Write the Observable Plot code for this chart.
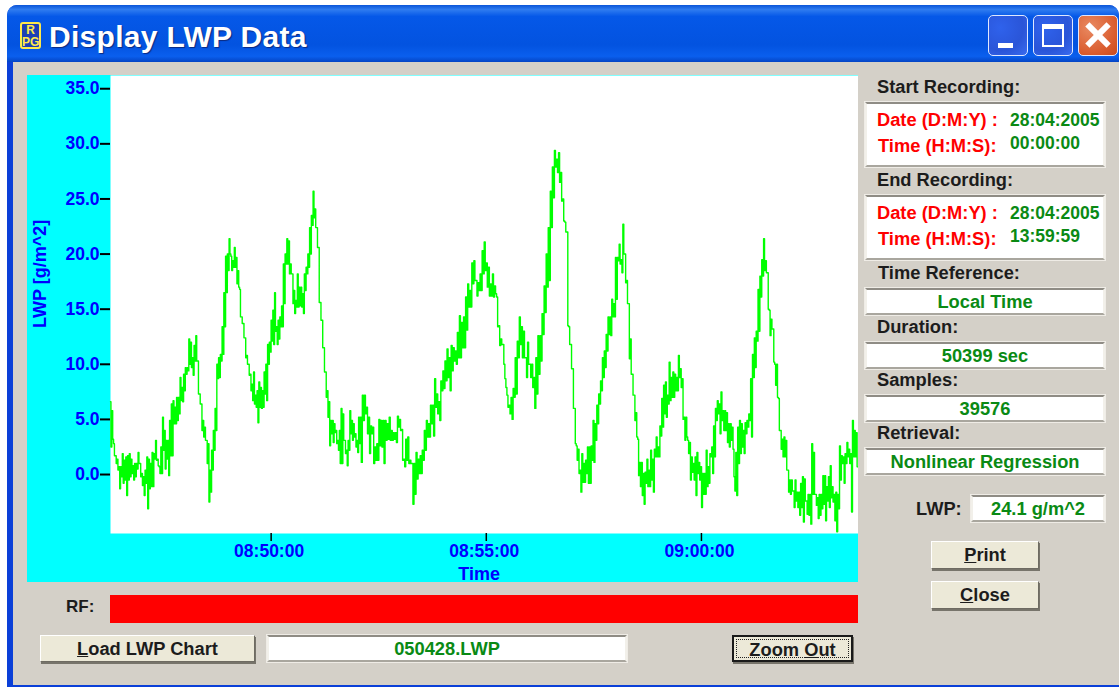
<!DOCTYPE html>
<html><head><meta charset="utf-8">
<script src="https://cdn.jsdelivr.net/npm/d3@7"></script>
<script src="https://cdn.jsdelivr.net/npm/@observablehq/plot@0.6"></script>
<style>
html,body{margin:0;padding:0;background:#fff;}
#win{position:absolute;left:0;top:0;width:1119px;height:688px;overflow:hidden;font:bold 18.3px "Liberation Sans",Arial,sans-serif;}
#win div{position:absolute;box-sizing:border-box;white-space:nowrap;}
#frame{left:7px;top:5px;width:1112px;height:682px;background:#0a3fd8;border-radius:10px 10px 0 0;}
#body{left:13px;top:61px;width:1106px;height:624px;background:#d4d0c8;}
#titlebar{left:7px;top:5px;width:1112px;height:57px;border-radius:10px 10px 0 0;background:linear-gradient(#0a55d8 0%,#2f7cf0 8%,#0558e8 20%,#0353e0 70%,#0a5fee 90%,#0444c4 100%);}
#title{left:49px;top:20px;color:#fff;font:bold 30px "Liberation Sans",Arial,sans-serif;letter-spacing:.3px;text-shadow:1px 1px 1px #0a2a80;}
#icon{left:20px;top:22px;width:21px;height:27px;background:#1d3fb5;border:2px solid #ffe94a;border-radius:3px;color:#ffe94a;font:bold 12px "Liberation Sans",sans-serif;line-height:12px;text-align:center;}
.wb{top:15px;height:41px;width:40px;border:1px solid #dfe8ff;border-radius:5px;background:radial-gradient(circle at 30% 30%,#2f62ec,#2a55d8 60%,#3a6cf0);}
.lbl{color:#1c1c1c;transform:translateY(-50%);}
.red{color:#ff0000;transform:translateY(-50%);}
.grn{color:#0a8a14;font-size:17.5px;transform:translateY(-50%);}
.box{background:#fff;border:2px solid;border-color:#8f8c85 #f2f0ea #a9a69e #f2f0ea;box-shadow:0 0 0 1px #efece6;}
.cv{color:#0a8a14;text-align:center;line-height:23px;}
.btn{background:#ece9d8;border:1px solid;border-color:#fff #6e6b62 #6e6b62 #fff;box-shadow:1px 2px 0 #77746b;color:#1c1c1c;text-align:center;line-height:26px;}
#plot{left:27px;top:75px;width:831px;height:507px;}
#plot svg{display:block;}
</style></head><body>
<div id="win">
<div id="frame"></div><div id="body"></div><div id="titlebar"></div>
<div id="icon">R<br>PG</div>
<div id="title">Display LWP Data</div>
<div class="wb" style="left:988px"><div style="left:9px;bottom:7px;width:15px;height:5px;background:#fff"></div></div>
<div class="wb" style="left:1033px"><div style="left:8px;top:8px;width:22px;height:23px;border:2px solid #fff;border-top-width:5px"></div></div>
<div class="wb" style="left:1078px;background:radial-gradient(circle at 30% 30%,#e98a62,#d95a2c 70%,#c84a1c)"><div style="left:4px;top:16px;width:30px;height:6px;background:#fff;transform:rotate(45deg)"></div><div style="left:4px;top:16px;width:30px;height:6px;background:#fff;transform:rotate(-45deg)"></div></div>

<div id="plot"></div>

<div class="lbl" style="left:66px;top:607px;font-size:17px">RF:</div>
<div style="left:110px;top:595px;width:748px;height:28px;background:#ff0000"></div>
<div class="btn" style="left:40px;top:635px;width:215px;height:27px"><u>L</u>oad LWP Chart</div>
<div class="box cv" style="left:267px;top:635px;width:360px;height:27px">050428.LWP</div>
<div class="btn" style="left:732px;top:635px;width:121px;height:27px;border:2px solid #1a1a1a;line-height:19px"><div style="left:2px;top:2px;right:2px;bottom:2px;border:1px dotted #222;text-align:center">Zoom <u>O</u>ut</div></div>

<div class="lbl" style="left:877px;top:87px">Start Recording:</div>
<div class="box" style="left:865px;top:102px;width:240px;height:65px"></div>
<div class="red" style="left:877px;top:120px">Date (D:M:Y) :</div>
<div class="grn" style="left:1010px;top:120px">28:04:2005</div>
<div class="red" style="left:878px;top:146px">Time (H:M:S):</div>
<div class="grn" style="left:1010px;top:143px">00:00:00</div>

<div class="lbl" style="left:877px;top:180px">End Recording:</div>
<div class="box" style="left:865px;top:195px;width:240px;height:65px"></div>
<div class="red" style="left:877px;top:213px">Date (D:M:Y) :</div>
<div class="grn" style="left:1010px;top:213px">28:04:2005</div>
<div class="red" style="left:878px;top:239px">Time (H:M:S):</div>
<div class="grn" style="left:1010px;top:236px">13:59:59</div>

<div class="lbl" style="left:878px;top:273px">Time Reference:</div>
<div class="box cv" style="left:865px;top:288px;width:240px;height:27px">Local Time</div>
<div class="lbl" style="left:877px;top:327px">Duration:</div>
<div class="box cv" style="left:865px;top:342px;width:240px;height:27px">50399 sec</div>
<div class="lbl" style="left:877px;top:380px">Samples:</div>
<div class="box cv" style="left:865px;top:395px;width:240px;height:27px">39576</div>
<div class="lbl" style="left:877px;top:433px">Retrieval:</div>
<div class="box cv" style="left:865px;top:448px;width:240px;height:27px">Nonlinear Regression</div>
<div class="lbl" style="left:916px;top:509px">LWP:</div>
<div class="box cv" style="left:971px;top:495px;width:134px;height:27px">24.1 g/m^2</div>
<div class="btn" style="left:931px;top:541px;width:108px;height:28px"><u>P</u>rint</div>
<div class="btn" style="left:931px;top:581px;width:108px;height:28px"><u>C</u>lose</div>
</div>
<script>
const yTicks = [0, 5, 10, 15, 20, 25, 30, 35];
const xTicks = ["2005-04-28T08:50:00Z", "2005-04-28T08:55:00Z", "2005-04-28T09:00:00Z"];
const timeDomain = ["2005-04-28T08:46:16Z", "2005-04-28T09:03:39Z"];
const lwpDomain = [-5.35, 36.2];
const segmentStarts = ["2005-04-28T08:46:16Z", "2005-04-28T08:52:05Z", "2005-04-28T08:56:53Z", "2005-04-28T08:57:53Z", "2005-04-28T09:03:39Z"];

const lwpFirst = [6.6,2.5,5.8,3.2,2.8,1.7,1.7,1.0,1.4,.4,.7,-1.3,.7,-.2,1.9,-.8,1.3,-.5,1.6,-1.9,1.7,-.5,1.9,-.2,1.4,.1,.8,-.5,1.0,-.2,1.0,.5,2.0,1.0,1.0,-.2,.1,-1.0,-.2,-1.9,.4,-.8,1.6,-3.1,1.4,-1.3,1.0,-1.1,2.0,-1.1,1.9,1.4,3.1,1.3,1.4,.8,.7,.1,2.5,.1,5.2,2.2,4.0,.5,3.1,1.4,3.1,-.1,4.9,1.7,6.4,1.7,6.7,4.6,6.1,4.6,7,4.9,7,5.5,8.8,6.7,7.9,6.6,9.1,7.6,9.7,9.1,9.7,9.4,12.3,10.0,12,9.7,10.6,9,11.7,10.3,12.6,10.3,10.3,7.3,7.3,6.4,6.4,4.0,4.9,3.4,4.3,3.1,3.1,1.0,2.8,-2.5,.4,-1.6,2.2,.4,4,2.2,6,4,10,8.7,10.6,8.8,10.9,10.3,13.4,10.9,16.5,13.4,19.8,16.5,20,18.5,21.4,20,19.8,18.5,19.4,18.8,20.6,18.8,19.7,17.3,18.5,17,16.8,14.3,14.3,13.7,13.7,12.4,12.4,10.6,10.8,10,10,9,9.1,7.6,8.2,6.7,9.3,6.4,7.2,6.1,7.6,4.7,8.4,6.1,7.9,6,7.6,6.1,9.3,7.3,10,6.7,11.8,10,12,11.1,14,12.1,14.9,11.8,16.5,13,13.4,11.8,14,12.3,14.3,13.4,15.3,13.4,19.1,15.5,20,19.1,21.4,19.1,21.2,18.2,19.1,18.2,18.2,15.5,16.7,14.6,15.8,15.2,18.2,15.2,17,15.3,17,15.2,16.4,14.6,18.2,16.7,18.8,18.2,20,18.8,22.4,20,23.5,22.6,25.7,23.3,24.1,22.4,22.4,20.6,20.6,15.6,15.6,14,14,11.5,11.5,9.3,9.3,7,7.6,5.2,6.6,2.6,4.9,3.7,4.9,2.9,4.6,3.8,4,2.8,3.1,2.2,4,1,6,1,5.5,3.1,3.1,1.9,2.2,.8,3.1,2.2,5.8,3.7,4.9,3.1,4.6,3.4,3.7,2.5,3.1,2,5.2,2.8];

const lwpSecond = [5.2,1.1,7.2,4.9,7.2,5.5,6.1,3.7,5.2,1.9,4.4,3.7,4.3,1,2.5,1.3,2.8,1.3,5,2.6,4.9,2.5,4.9,1,4.9,3.1,4.6,3.2,5.2,3.1,4,3.1,3.8,3.2,3.8,2.9,5.3,4.3,5,4,4.1,1.3,1.4,.7,3.2,1.3,3.4,1,1.3,1,1,-2.7,1,-1.8,2,-.4,1.4,.1,1.7,.1,2.2,1.3,4,2.2,4.9,3.4,4.6,3.4,6.3,4.6,6.3,3.5,8.7,6.1,7.3,5.5,6.6,4.9,8.5,7.6,9.4,7.8,10.3,8.5,11.4,8.8,10.6,7.6,11.7,9.4,11.5,10.3,11.2,10,12.9,10.6,14.4,10.6,13.8,11.5,14.3,11.5,16.1,13.1,17.3,15.2,16.7,15.2,19.2,17.3,19.4,17.6,17.6,16.2,17.4,16.7,18.2,16.7,20.3,18.2,21.1,18.5,19.2,17,18.8,16.2,17.3,16.2,18.2,16.1,17.1,16.4,16.1,13.4,13.5,11.7,12.3,11.8,11.8,10,8.7,7.9,7.2,6.1,6.3,5.5,7,5,7.8,7,10.6,7.3,12.1,10.6,14.3,11.8,13.4,10.6,13,10.6,10.6,8.8,12,10,10,8.8,10,7.9,8.8,6,10.6,7.3,12.6,9.1,12.6,10.3,14.6,12.7,17.1,14.7,20,17,22.4,17.6,25.7,22.4,27.9,25.1,29.4,27.9,28.6,27.4,29.2,26.5,27.4,24.8,25,23,22.9,22];

const lwpSecondEnd = [22,13.5,13.4,11.8,11.8,9.6,9.6,6,6,2.8,2.6,1.3,2.3,.1,.4,-1.6,1.9,-.7,1,-.7,1.3,.1,2.5,-.8,2.5,-.8,2.6,1.3,4.9,1.1,4.6,3.1,6.3,4.6,7.3,6.4,8.5,7.6,10.6,8.8,11.2,9.7,12.7,11.2,14.3,12.7];

const lwpThird = [14.3,12.6,15.9,14.3,15.5,14.3,19.7,15.9,19.7,19.4,20.9,19.1,19.5,18.3,22.7,20,20,17.4,17.6,15.5,15.5,10.5,12.3,9.1,9.1,7.2,7.2,4.9,5.6,3.4,3.2,-.1,1.1,-1.1,1.1,-1.9,.1,-2.7,.2,-.8,1.4,-1.1,.4,-1.1,2.2,-.5,1.4,-1.6,2.3,1.6,3.4,1.6,2.5,1.6,4.4,3.5,6.9,4.3,8.1,5.5,8.4,5.2,7.2,6.4,10.2,6.7,8.8,7,9.3,7,9.1,7.6,8.8,7.6,10.8,8.8,9.6,7.9,8.7,5,5.2,3.1,5.2,3.4,3.1,1.9,2.9,-.5,1.6,.2,1,-.5,1.6,-1.9,2,.1,1.1,-.5,.7,-3,.1,-1.8,.1,-1.8,2.2,-1.1,.7,-.8,1.9,1.6,2.5,.1,4.4,1.6,6,4.9,6.7,5.5,6.4,3.7,7.5,4.9,5.8,4,5.8,4,5.6,2.9,4.6,2.5,4.6,3.1,4.3,2.3,-.2,-1.5,2,-1.9,4.3,1,4.9,1.9,4.6,2.5,4,1.9,4.7,3.7,4.9,4.3,5.5,4.9,8.7,3.4,10.9,8.8,12.4,9.7,13,12.1,16.8,13,18,16.1,19.5,18,21.4,18.5,19.4,18.3,18.3,15,14.9,12.6,14.1,13.2,13.2,10.2,10,8.1,10,7,6.9,4,4,2.3,3.2,1.6,3.4,1.6,3.1,.4,.4,-1.6,-.5,-1.8,-.5,-1.5,-1.5,-3,-.5,-2.4,-1.6,-3,-1.6,-3.7,-.8,-3,-.2,-4.3,-.4,-2.4,-2.4,-3.6,-1.8,-3.7,-1.8,-4.5,2.8,-1.8,2,-1.8,-1.8,-2.8,-2.1,-4,-1.8,-3.7,-1.8,-3.1,-.1,-2.7,-.1,-4.2,-1.1,-2.4,-.2,-3,.8,-2.1,-1.1,-2.5,-1.8,-4.2,-1.6,-5.2,-1.8,-3.1,2.6,-.5,1.7,1,1.6,-.8,1.9,1,2.9,1.6,2.3,1,1.9,-3.4,4.9,1.6,4,1.6,3.8,.7];

const rows = [lwpFirst, lwpSecond, lwpSecondEnd, lwpThird].flatMap((vals, s) => {
  const t0 = +new Date(segmentStarts[s]), t1 = +new Date(segmentStarts[s + 1]);
  return vals.map((lwp, i) => ({time: new Date(t0 + (t1 - t0) * i / vals.length), lwp}));
});

const timeFmt = d3.utcFormat("%H:%M:%S");
const tickDates = xTicks.map(d => new Date(d));
const chart = Plot.plot({
  width: 831, height: 507,
  marginLeft: 83, marginRight: 0, marginTop: 0, marginBottom: 49,
  style: {background: "#00ffff", fontFamily: '"Liberation Sans", Arial, sans-serif', fontSize: "17.5px", fontWeight: "bold", overflow: "hidden"},
  x: {type: "utc", domain: timeDomain.map(d => new Date(d))},
  y: {domain: lwpDomain},
  marks: [
    Plot.frame({fill: "#ffffff", stroke: "none"}),
    Plot.axisY({ticks: yTicks, tickFormat: d => d.toFixed(1), tickSize: 10, tickPadding: 1, fill: "#0000ff", stroke: "#000", strokeWidth: 2, label: null}),
    Plot.axisX({ticks: tickDates, tickFormat: () => "", tickSize: 8, stroke: "#000", strokeWidth: 1.5, label: null}),
    Plot.axisX({ticks: tickDates, tickFormat: timeFmt, tickSize: 0, tickPadding: 11, dx: -2, fill: "#0000ff", label: null}),
    Plot.line(rows, {x: "time", y: "lwp", stroke: "#00ff00", strokeWidth: 1.4, curve: "step"}),
    Plot.text(["LWP [g/m^2]"], {frameAnchor: "left", textAnchor: "middle", y: [18.2], rotate: -90, dx: -70, fill: "#0000ff", fontSize: 18, fontWeight: "bold"}),
    Plot.text(["Time"], {frameAnchor: "bottom", x: [new Date("2005-04-28T08:54:50Z")], dy: 46, fill: "#0000ff", fontSize: 18, fontWeight: "bold"})
  ]
});
document.getElementById("plot").appendChild(chart);
</script>
</body></html>
